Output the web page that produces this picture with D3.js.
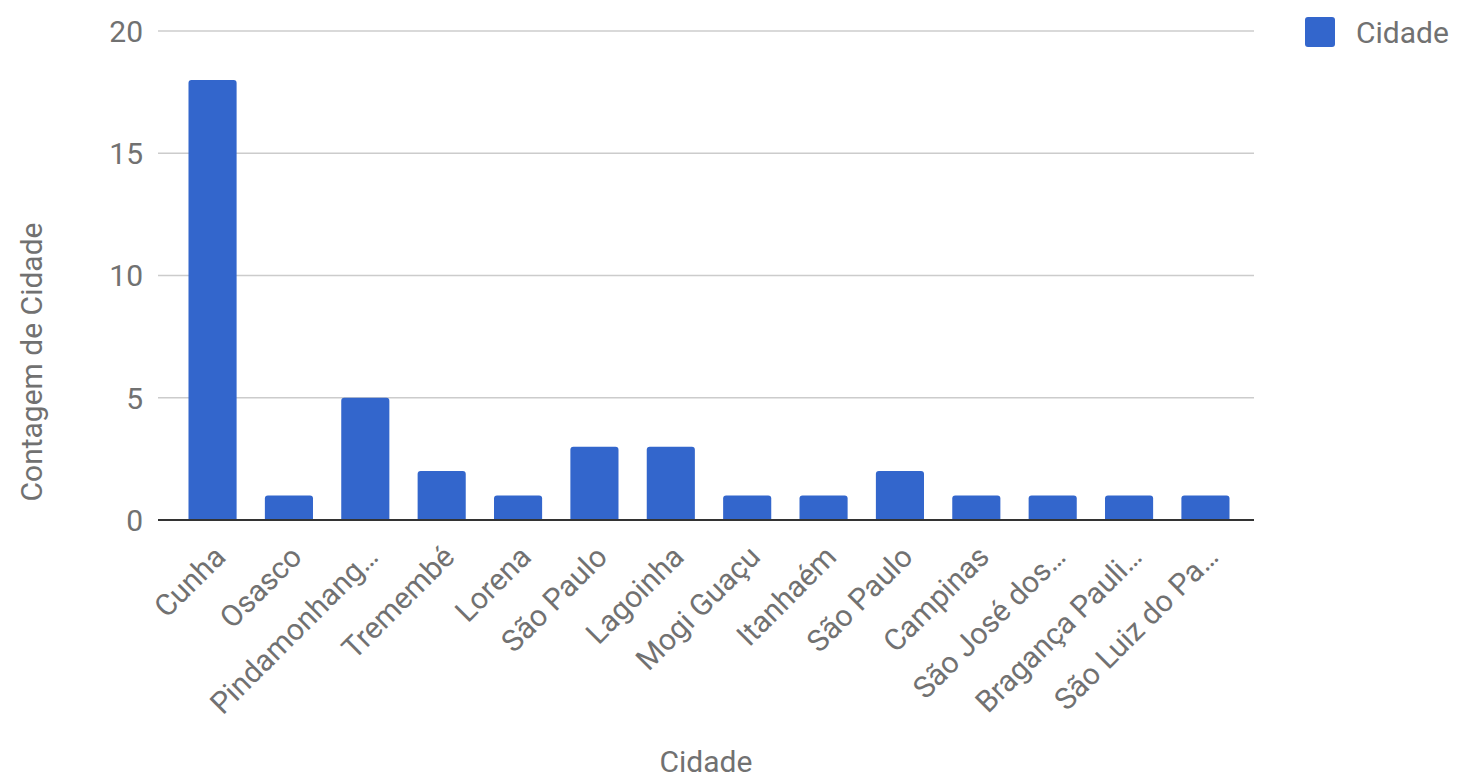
<!DOCTYPE html>
<html><head><meta charset="utf-8">
<script src="https://cdn.jsdelivr.net/npm/d3@7"></script>
<style>body{margin:0;background:#fff;} svg{display:block;font-family:Roboto,"Noto Sans",sans-serif;}</style>
</head><body>
<svg id="c" width="1457" height="782"></svg>
<script>
const categories = ["Cunha","Osasco","Pindamonhang…","Tremembé","Lorena","São Paulo","Lagoinha","Mogi Guaçu","Itanhaém","São Paulo","Campinas","São José dos…","Bragança Pauli…","São Luiz do Pa…"];
const values = [18,1,5,2,1,3,3,1,1,2,1,1,1,1];
const yTicks = [0,5,10,15,20];
const seriesName = "Cidade";
const xTitle = "Cidade";
const yTitle = "Contagem de Cidade";

(function(){
const svg = d3.select("#c");
const pLeft = 158, pRight = 1254, pTop = 31, pBottom = 520;
const x = d3.scaleBand().domain(d3.range(categories.length)).range([pLeft + 3, pRight + 3]).paddingInner(0.37).paddingOuter(0.36);
const y = d3.scaleLinear().domain([0,20]).range([pBottom, pTop]);
const textCol = "#717171";
const fs = 30;

svg.append("g").selectAll("line").data(yTicks.filter(d=>d>0)).join("line")
  .attr("x1", pLeft).attr("x2", pRight).attr("y1", d=>y(d)).attr("y2", d=>y(d))
  .attr("stroke", "#cccccc").attr("stroke-width", 1.5);

svg.append("g").selectAll("text").data(yTicks).join("text")
  .attr("x", pLeft - 15).attr("y", d=>y(d)).attr("dy","0.36em")
  .attr("text-anchor","end").attr("fill", textCol).attr("font-size", fs).text(d=>d);

const r = 3;
svg.append("g").selectAll("path").data(values).join("path")
  .attr("d", (d,i)=>{
    const x0 = x(i), w = x.bandwidth(), y0 = y(d), y1 = y(0);
    return `M${x0},${y1}V${y0+r}Q${x0},${y0} ${x0+r},${y0}H${x0+w-r}Q${x0+w},${y0} ${x0+w},${y0+r}V${y1}Z`;
  })
  .attr("fill", "#3366cc");

svg.append("line").attr("x1", pLeft).attr("x2", pRight).attr("y1", y(0)).attr("y2", y(0))
  .attr("stroke", "#333").attr("stroke-width", 2);

svg.append("g").selectAll("text").data(categories).join("text")
  .attr("transform", (d,i)=>`translate(${x(i)+x.bandwidth()/2+7},${pBottom+31}) rotate(-45)`)
  .attr("text-anchor","end").attr("dy","0.36em")
  .attr("fill", textCol).attr("font-size", fs).text(d=>d);

svg.append("text").attr("x", (pLeft+pRight)/2).attr("y", 772).attr("text-anchor","middle")
  .attr("fill", textCol).attr("font-size", fs).text(xTitle);
svg.append("text").attr("transform", `translate(42,362) rotate(-90)`).attr("text-anchor","middle")
  .attr("fill", textCol).attr("font-size", fs).text(yTitle);

svg.append("rect").attr("x",1305).attr("y",17).attr("width",30).attr("height",30).attr("rx",3).attr("fill","#3366cc");
svg.append("text").attr("x",1356).attr("y",32).attr("dy","0.36em").attr("fill",textCol).attr("font-size",fs).text(seriesName);
})();
</script>
</body></html>
